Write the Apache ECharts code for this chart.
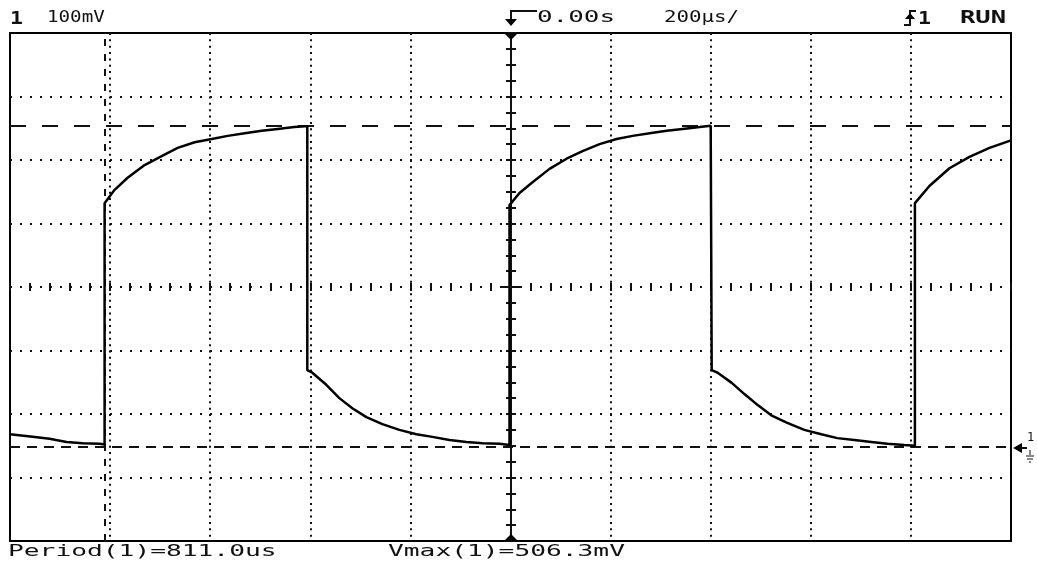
<!DOCTYPE html>
<html>
<head>
<meta charset="utf-8">
<script src="https://cdn.jsdelivr.net/npm/echarts@6/dist/echarts.min.js"></script>
<style>
  html, body { margin: 0; padding: 0; background: #fff; }
  #chart-container { width: 1037px; height: 570px; }
</style>
</head>
<body>
<div id="chart-container"></div>
<script>
// trace: time in us, voltage in mV (ground = 0)
var timeUs = [-1000, -955, -921, -887, -855, -821, -811, -811, -791, -765, -731, -697, -665, -631, -597, -565,
  -531, -497, -465, -432, -410, -406, -406, -396, -368, -342, -316, -288, -256, -222, -188, -156,
  -122, -88, -56, -22, -2, -2, 18, 44, 78, 112, 144, 178, 212, 244,
  278, 312, 344, 378, 400, 402, 402, 414, 442, 468, 494, 521, 553, 587, 621, 653,
  687, 721, 753, 787, 808, 808, 837, 877, 917, 957, 1000];
var voltMv = [20, 16, 13, 8, 6, 5, 4, 384, 405, 424, 444, 458, 471, 480, 485, 490,
  494, 498, 501, 504, 505, 505, 121, 117, 98, 77, 61, 47, 36, 27, 20, 16,
  11, 8, 6, 5, 3, 381, 400, 417, 438, 454, 466, 477, 485, 490,
  494, 498, 501, 504, 506, 506, 121, 117, 101, 83, 66, 50, 38, 27, 20, 14,
  11, 8, 5, 3, 2, 384, 411, 439, 457, 471, 483];

// cursors and readouts
var vmaxCursor = 506.3;
var groundLevel = 0;
var periodCursor = -811;
var triggerTime = 0;
var periodText = 'Period(1)=811.0us';
var vmaxText = 'Vmax(1)=506.3mV';

var dom = document.getElementById('chart-container');
var myChart = echarts.init(dom, null, { renderer: 'canvas' });

var trace = timeUs.map(function (t, i) { return [t, voltMv[i]]; });

var ink = '#111';
var mono = '"DejaVu Sans Mono", monospace';

function txt(x, y, s, size, bold, sx) {
  return {
    type: 'text', x: x, y: y, scaleX: sx || 1, z: 10,
    style: {
      text: s, fill: ink, verticalAlign: 'middle',
      font: (bold ? 'bold ' : '') + size + 'px ' + mono
    }
  };
}

var option = {
  animation: false,
  backgroundColor: '#fff',
  grid: {
    left: 10, top: 33, width: 1001, height: 508,
    show: true, borderColor: '#000', borderWidth: 2, backgroundColor: '#fff'
  },
  xAxis: [
    { type: 'value', min: -1000, max: 1000, show: false },
    {
      type: 'value', min: 0, max: 10, interval: 1, position: 'top',
      axisLine: { show: false }, axisTick: { show: false }, axisLabel: { show: false },
      splitLine: { show: true, showMinLine: false, showMaxLine: false,
        lineStyle: { color: ink, width: 2, type: [2, 4.35] } }
    },
    {
      type: 'value', min: 0, max: 10, interval: 0.2, position: 'bottom', offset: -250,
      axisLine: { show: false }, axisLabel: { show: false }, splitLine: { show: false },
      axisTick: { show: true, inside: true, length: 8, lineStyle: { color: ink, width: 2 } }
    }
  ],
  yAxis: [
    { type: 'value', min: -148, max: 652, show: false },
    {
      type: 'value', min: 0, max: 8, interval: 1, position: 'right',
      axisLine: { show: false }, axisTick: { show: false }, axisLabel: { show: false },
      splitLine: { show: true, showMinLine: false, showMaxLine: false,
        lineStyle: { color: ink, width: 2, type: [2, 8] } }
    },
    {
      type: 'value', min: 0, max: 8, interval: 0.25, position: 'left', offset: -496,
      axisLine: { show: false }, axisLabel: { show: false }, splitLine: { show: false },
      axisTick: { show: true, inside: true, length: 10, lineStyle: { color: ink, width: 2 } }
    }
  ],
  series: [
    {
      name: 'CH1',
      type: 'line',
      xAxisIndex: 0,
      yAxisIndex: 0,
      data: trace,
      showSymbol: false,
      z: 5,
      lineStyle: { color: '#000', width: 2.5 },
      markLine: {
        silent: true,
        symbol: ['none', 'none'],
        label: { show: false },
        data: [
          { yAxis: vmaxCursor, lineStyle: { color: ink, width: 2, type: [16, 16] } },
          { yAxis: groundLevel, lineStyle: { color: ink, width: 2, type: [10, 7] } },
          { xAxis: periodCursor, lineStyle: { color: ink, width: 2, type: [7, 8] } },
          { xAxis: triggerTime, lineStyle: { color: ink, width: 2, type: 'solid' } }
        ]
      }
    }
  ],
  graphic: [
    // center cross bar
    { type: 'line', z: 6, shape: { x1: 500, y1: 287, x2: 522, y2: 287 }, style: { stroke: ink, lineWidth: 2 } },
    // trigger position markers
    { type: 'polygon', z: 6, shape: { points: [[504, 33], [518, 33], [511, 40]] }, style: { fill: '#000' } },
    { type: 'polygon', z: 6, shape: { points: [[504, 541], [518, 541], [511, 534]] }, style: { fill: '#000' } },
    // ground marker on the right
    { type: 'polygon', z: 6, shape: { points: [[1013, 448], [1022, 443], [1022, 453]] }, style: { fill: '#000' } },
    { type: 'line', z: 6, shape: { x1: 1020, y1: 448, x2: 1027, y2: 448 }, style: { stroke: ink, lineWidth: 2 } },
    txt(1027, 438, '1', 12, false, 1),
    { type: 'polyline', z: 6, shape: { points: [[1030, 450], [1030, 455]] }, style: { stroke: ink, lineWidth: 1 } },
    { type: 'line', z: 6, shape: { x1: 1026, y1: 456, x2: 1034, y2: 456 }, style: { stroke: ink, lineWidth: 1 } },
    { type: 'line', z: 6, shape: { x1: 1027, y1: 459, x2: 1033, y2: 459 }, style: { stroke: ink, lineWidth: 1 } },
    { type: 'line', z: 6, shape: { x1: 1029, y1: 462, x2: 1031, y2: 462 }, style: { stroke: ink, lineWidth: 1 } },
    // trigger delay symbol
    { type: 'polyline', z: 6, shape: { points: [[537, 11], [511, 11], [511, 21]] }, style: { stroke: ink, lineWidth: 2 } },
    { type: 'polygon', z: 6, shape: { points: [[505, 19], [517, 19], [511, 26]] }, style: { fill: '#000' } },
    // rising edge trigger symbol
    { type: 'polyline', z: 6, shape: { points: [[904, 25], [910, 25], [910, 11], [916, 11]] }, style: { stroke: ink, lineWidth: 2 } },
    { type: 'polygon', z: 6, shape: { points: [[905, 19], [915, 19], [910, 13]] }, style: { fill: '#000' } },
    // header and readouts
    txt(10, 19, '1', 18, true, 1.2),
    txt(47, 18, '100mV', 16, false, 1.2),
    txt(537, 18, '0.00s', 16, false, 1.62),
    txt(664, 18, '200µs/', 16, false, 1.3),
    txt(918, 19, '1', 18, true, 1.2),
    txt(960, 19, 'RUN', 17, true, 1.5),
    txt(8, 552, periodText, 16, false, 1.64),
    txt(388, 552, vmaxText, 16, false, 1.64)
  ]
};

if (option && typeof option === 'object') {
  myChart.setOption(option);
}

window.addEventListener('resize', myChart.resize);
</script>
</body>
</html>
